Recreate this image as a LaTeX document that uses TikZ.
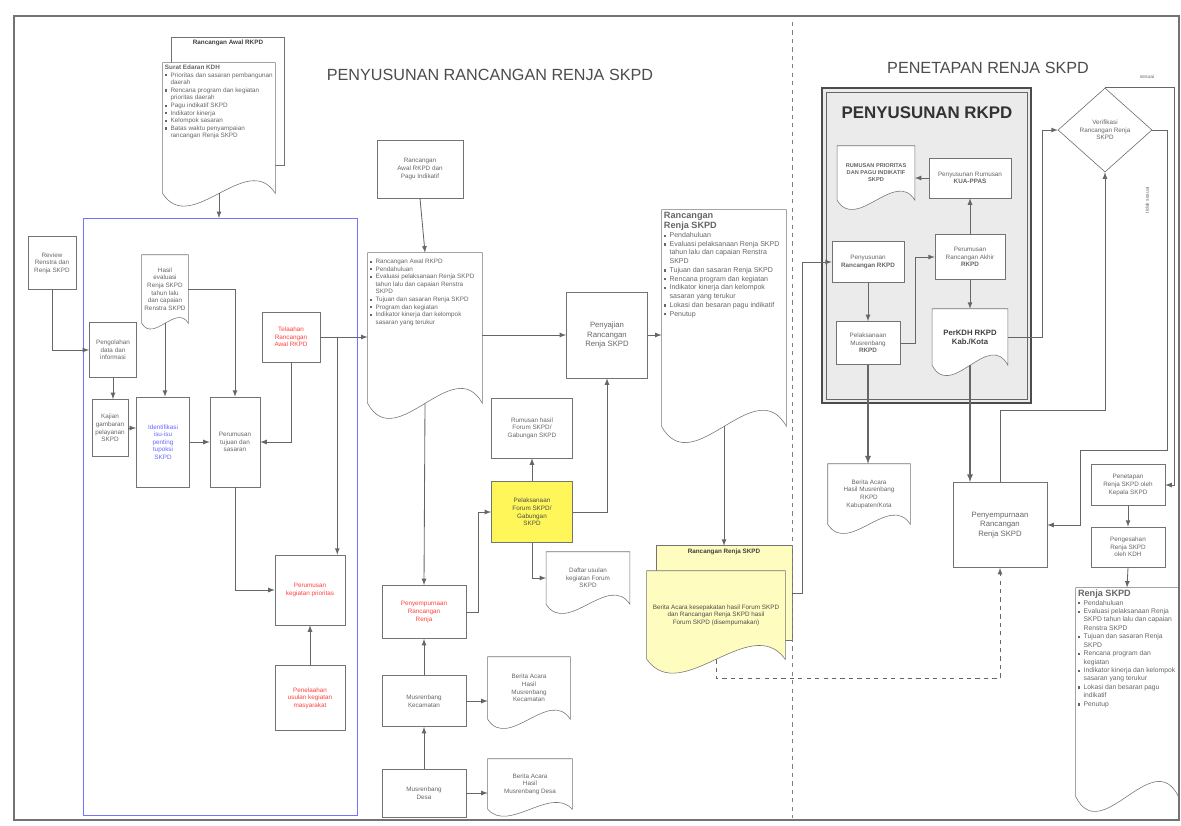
\documentclass[tikz,border=0pt]{standalone}
\usepackage{fontspec}
\setmainfont{Liberation Sans}
\usetikzlibrary{calc,shapes.geometric}
\pgfdeclarelayer{background}
\pgfsetlayers{background,main}

\tikzset{
  box/.style={draw=black!55, fill=white, align=center, inner sep=1pt, text=black!60, font=\fontsize{4.5}{5.4}\selectfont},
  redbox/.style={box, text=red!75},
  bluebox/.style={box, text=blue!60},
  yellowbox/.style={box, fill=yellow!65, text=black!70},
  doc/.style={align=center, inner sep=1.5pt, text=black!60, font=\fontsize{4.5}{5.4}\selectfont},
  sheet/.style={inner sep=0pt},
  sheethead/.style={anchor=north, inner sep=2pt, text=black!75, font=\fontsize{4.5}{5.4}\selectfont\bfseries},
  title/.style={font=\fontsize{11.5}{13}\selectfont, text=black!70},
  note/.style={inner sep=1pt, text=black!60, font=\fontsize{3.5}{4}\selectfont},
  link/.style={draw=black!60, line width=0.6pt, ->}
}

% lembar dokumen dengan tepi bawah bergelombang
\newcommand{\wavydoc}[3][white]{%
  \begin{pgfonlayer}{background}
  \draw[draw=black!55, fill=#1] (#2.south west) -- (#2.north west) -- (#2.north east) -- (#2.south east)
    .. controls ($(#2.south east)!0.5!(#2.south)+(0,#3)$) and ($(#2.south)!0.5!(#2.south west)-(0,#3)$) .. (#2.south west) -- cycle;
  \end{pgfonlayer}}
\newcommand{\backsheet}[2][white]{%
  \begin{pgfonlayer}{background}
  \draw[draw=black!55, fill=#1] (#2.north west) rectangle (#2.south east);
  \end{pgfonlayer}}
\newcommand{\itm}{\par\noindent\hangindent=4pt\hangafter=1\makebox[4pt][l]{\rule[0.5pt]{1.6pt}{1.6pt}}}

\begin{document}
\begin{tikzpicture}[x=0.025cm, y=-0.025cm, >=latex]
\useasboundingbox (0,0) rectangle (1181,825);
\draw[black!55, line width=0.8pt] (14,16) rectangle (1179,820);
\draw[black!50, dashed] (792,22) -- (792,818);
\node[title] (tSusun) at (490,75) {PENYUSUNAN RANCANGAN RENJA SKPD};
\node[title] (tTetap) at (988,68) {PENETAPAN RENJA SKPD};

% tahap penyusunan
\draw[blue!55, line width=0.6pt] (83,218) rectangle (357,815);
\coordinate (blueTop) at (219,218);
\node[sheet, minimum width=2.8cm, minimum height=3.18cm, label={[sheethead]north:Rancangan Awal RKPD}] (raSheet) at (228,101) {};
\backsheet{raSheet}
\node[doc] (seDoc) at (219,128) {\parbox[c][3.15cm][t]{2.7cm}{\raggedright
  {\bfseries Surat Edaran KDH}
  \itm Prioritas dan sasaran pembangunan daerah
  \itm Rencana program dan kegiatan prioritas daerah
  \itm Pagu indikatif SKPD
  \itm Indikator kinerja
  \itm Kelompok sasaran
  \itm Batas waktu penyampaian rancangan Renja SKPD}};
\wavydoc{seDoc}{11mm}
\draw[link] (seDoc.south) -- (blueTop);

\node[box, minimum width=1.2cm, minimum height=1.33cm] (reviewRenstra) at (52,263) {Review\\Renstra dan\\Renja SKPD};
\node[box, minimum width=1.18cm, minimum height=1.38cm] (olahData) at (113,350) {Pengolahan\\data dan\\informasi};
\node[doc, minimum width=1.15cm, minimum height=1.7cm] (evalDoc) at (165,289) {Hasil\\evaluasi\\Renja SKPD\\tahun lalu\\dan capaian\\Renstra SKPD};
\wavydoc{evalDoc}{5mm}
\node[box, minimum width=0.9cm, minimum height=1.43cm] (gambaran) at (110,428) {Kajian\\gambaran\\pelayanan\\SKPD};
\node[bluebox, minimum width=1.33cm, minimum height=2.25cm] (isuPenting) at (163,442) {Identifikasi\\isu-isu\\penting\\tupoksi\\SKPD};
\node[box, minimum width=1.25cm, minimum height=2.25cm] (tujuan) at (235,442) {Perumusan\\tujuan dan\\sasaran};
\node[redbox, minimum width=1.45cm, minimum height=1.25cm] (telaahRkpd) at (291,337) {Telaahan\\Rancangan\\Awal RKPD};
\node[redbox, minimum width=1.75cm, minimum height=1.75cm] (prioritas) at (310,590) {Perumusan\\kegiatan prioritas};
\node[redbox, minimum width=1.75cm, minimum height=1.63cm] (usulanMas) at (310,698) {Penelaahan\\usulan kegiatan\\masyarakat};

\draw[link] (reviewRenstra.south) |- (olahData.west);
\draw[link] (olahData.south) -- (olahData.south |- gambaran.north);
\draw[link] (gambaran.east) -- (gambaran.east -| isuPenting.west);
\draw[link] (isuPenting.east) -- (tujuan.west);
\draw[link] (evalDoc.south) -- (evalDoc.south |- isuPenting.north);
\draw[link] (evalDoc.east) -| (tujuan.north);
\draw[link] (telaahRkpd.south) |- (tujuan.east);
\draw[link] (telaahRkpd.east) -| ([xshift=-2mm]prioritas.north east);
\draw[link] (tujuan.south) |- (prioritas.west);
\draw[link] (usulanMas.north) -- (prioritas.south);

% rancangan renja
\node[box, minimum width=2.15cm, minimum height=1.45cm] (rkpdAwal) at (420,169) {Rancangan\\Awal RKPD dan\\Pagu Indikatif};
\node[doc] (renjaAwal) at (425,328) {\parbox[c][3.65cm][t]{2.75cm}{\raggedright\vspace*{1mm}
  \itm Rancangan Awal RKPD
  \itm Pendahuluan
  \itm Evaluasi pelaksanaan Renja SKPD tahun lalu dan capaian Renstra SKPD
  \itm Tujuan dan sasaran Renja SKPD
  \itm Program dan kegiatan
  \itm Indikator kinerja dan kelompok sasaran yang terukur}};
\wavydoc{renjaAwal}{13mm}
\draw[link] (rkpdAwal.south) -- (renjaAwal.north);
\draw[link] (telaahRkpd.east) -- (telaahRkpd.east -| renjaAwal.west);

\node[box, minimum width=2.03cm, minimum height=2.15cm, font=\fontsize{5.5}{6.5}\selectfont] (penyajian) at (607,335) {Penyajian\\Rancangan\\Renja SKPD};
\draw[link] (renjaAwal.east |- penyajian.west) -- (penyajian.west);
\node[doc] (renjaRanc) at (724,318) {\parbox[c][5.3cm][t]{3.0cm}{\raggedright\fontsize{5}{6.2}\selectfont
  {\fontsize{6.5}{7.5}\selectfont\bfseries Rancangan\\Renja SKPD\par}
  \itm Pendahuluan
  \itm Evaluasi pelaksanaan Renja SKPD tahun lalu dan capaian Renstra SKPD
  \itm Tujuan dan sasaran Renja SKPD
  \itm Rencana program dan kegiatan
  \itm Indikator kinerja dan kelompok sasaran yang terukur
  \itm Lokasi dan besaran pagu indikatif
  \itm Penutup}};
\wavydoc{renjaRanc}{14mm}
\draw[link] (penyajian.east) -- (penyajian.east -| renjaRanc.west);

\node[box, minimum width=2.03cm, minimum height=1.5cm] (hasilForum) at (532,428) {Rumusan hasil\\Forum SKPD/\\Gabungan SKPD};
\node[yellowbox, minimum width=2.03cm, minimum height=1.53cm] (forumSkpd) at (532,512) {Pelaksanaan\\Forum SKPD/\\Gabungan\\SKPD};
\draw[link] (forumSkpd.north) -- (hasilForum.south);
\draw[link] (forumSkpd.east) -| (penyajian.south);
\node[doc, minimum width=2.08cm, minimum height=1.3cm] (usulanForum) at (588,578) {Daftar usulan\\kegiatan Forum\\SKPD};
\wavydoc{usulanForum}{8mm}
\draw[link] (forumSkpd.south) |- (usulanForum.west);
\node[redbox, minimum width=2.1cm, minimum height=1.33cm] (penyempurnaan) at (424,612) {Penyempurnaan\\Rancangan\\Renja};
\draw[link] (renjaAwal.south) -- (penyempurnaan.north);
\draw[link] (penyempurnaan.east) -- ++(12,0) |- (forumSkpd.west);
\node[box, minimum width=2.1cm, minimum height=1.28cm] (musKec) at (424,701) {Musrenbang\\Kecamatan};
\draw[link] (musKec.north) -- (penyempurnaan.south);
\node[doc, minimum width=2.05cm, minimum height=1.55cm] (baKec) at (529,688) {Berita Acara\\Hasil\\Musrenbang\\Kecamatan};
\wavydoc{baKec}{8mm}
\draw[link] (musKec.east) -- (musKec.east -| baKec.west);
\node[box, minimum width=2.1cm, minimum height=1.2cm] (musDesa) at (424,793) {Musrenbang\\Desa};
\draw[link] (musDesa.north) -- (musKec.south);
\node[doc, minimum width=2.1cm, minimum height=1.25cm] (baDesa) at (530,784) {Berita Acara\\Hasil\\Musrenbang Desa};
\wavydoc{baDesa}{6mm}
\draw[link] (musDesa.east) -- (musDesa.east -| baDesa.west);

\node[sheet, minimum width=3.38cm, minimum height=2.35cm, label={[sheethead]north:Rancangan Renja SKPD}] (renjaSheet) at (724,593) {};
\backsheet[yellow!25]{renjaSheet}
\node[doc, minimum width=3.45cm, minimum height=2.2cm, text=black!70] (baRenja) at (716,615) {Berita Acara kesepakatan hasil Forum SKPD\\dan Rancangan Renja SKPD hasil\\Forum SKPD (disempurnakan)};
\wavydoc[yellow!25]{baRenja}{12mm}
\draw[link] (renjaRanc.south) -- (renjaSheet.north);

% penyusunan rkpd
\begin{pgfonlayer}{background}
\draw[black!70, line width=1pt, fill=black!8] (822,88) rectangle (1031,403);
\draw[black!60, line width=0.4pt] (826,92) rectangle (1027,399);
\end{pgfonlayer}
\node[font=\fontsize{12}{14}\selectfont\bfseries, text=black!80] (tRkpd) at (927,113) {PENYUSUNAN RKPD};
\node[doc, font=\fontsize{4}{5}\selectfont\bfseries, minimum width=1.93cm, minimum height=1.35cm] (rumusanPrioritas) at (876,173) {RUMUSAN PRIORITAS\\DAN PAGU INDIKATIF\\SKPD};
\wavydoc{rumusanPrioritas}{8mm}
\node[box, minimum width=2.05cm, minimum height=1cm] (rk4) at (970,178) {Penyusunan Rumusan\\\textbf{KUA-PPAS}};
\node[box, minimum width=1.75cm, minimum height=1.13cm] (rk3) at (970,257) {Perumusan\\Rancangan Akhir\\\textbf{RKPD}};
\node[box, minimum width=1.8cm, minimum height=1.03cm] (rk1) at (868,262) {Penyusunan\\\textbf{Rancangan RKPD}};
\node[box, minimum width=1.6cm, minimum height=1.08cm] (rk2) at (868,343) {Pelaksanaan\\Musrenbang\\\textbf{RKPD}};
\node[doc, font=\fontsize{5.5}{6.5}\selectfont\bfseries, minimum width=1.88cm, minimum height=1.4cm, text=black!75] (perkdh) at (970,337) {PerKDH RKPD\\Kab./Kota};
\wavydoc{perkdh}{9mm}
\draw[link] (rk1.south) -- (rk2.north);
\draw[link] (rk2.east) -- ++(15,0) |- (rk3.west);
\draw[link] (rk3.north) -- (rk4.south);
\draw[link] (rk4.west) -- (rk4.west -| rumusanPrioritas.east);
\draw[link] (rk3.south) -- (perkdh.north);
\draw[link] (renjaSheet.east) -- ++(11,0) |- (rk1.west);

% penetapan
\node[diamond, draw=black!60, fill=white, minimum width=2.35cm, minimum height=2.1cm, inner sep=0pt, align=center, text=black!60, font=\fontsize{4.5}{5.4}\selectfont] (verifikasi) at (1105,130) {Verifikasi\\Rancangan Renja\\SKPD};
\draw[link] (perkdh.east) -- ++(35,0) |- (verifikasi.west);
\node[box, minimum width=2.35cm, minimum height=2.13cm, font=\fontsize{5.5}{6.5}\selectfont] (penyempurnaanAkhir) at (1000,525) {Penyempurnaan\\Rancangan\\Renja SKPD};
\draw[link, line width=0.9pt] (perkdh.south) -- (perkdh.south |- penyempurnaanAkhir.north);
\draw[link] (penyempurnaanAkhir.north) -- ++(0,-72) -| (verifikasi.south);
\draw[link, dashed] (baRenja.south) -- ++(0,19) -| (penyempurnaanAkhir.south);
\node[doc, minimum width=2.05cm, minimum height=1.5cm] (baRkpd) at (869,494) {Berita Acara\\Hasil Musrenbang\\RKPD\\Kabupaten/Kota};
\wavydoc{baRkpd}{8mm}
\draw[link, line width=0.9pt] (rk2.south) -- (rk2.south |- baRkpd.north);

\node[box, minimum width=1.85cm, minimum height=1.03cm] (penetapan) at (1128,485) {Penetapan\\Renja SKPD oleh\\Kepala SKPD};
\node[box, minimum width=1.85cm, minimum height=1cm] (pengesahan) at (1128,547) {Pengesahan\\Renja SKPD\\oleh KDH};
\draw[link] (penetapan.south) -- (pengesahan.north);
\node[doc] (renjaFinal) at (1127,692) {\parbox[c][5.1cm][t]{2.45cm}{\raggedright\fontsize{4.8}{6}\selectfont
  {\fontsize{6.5}{7.5}\selectfont\bfseries Renja SKPD\par}
  \itm Pendahuluan
  \itm Evaluasi pelaksanaan Renja SKPD tahun lalu dan capaian Renstra SKPD
  \itm Tujuan dan sasaran Renja SKPD
  \itm Rencana program dan kegiatan
  \itm Indikator kinerja dan kelompok sasaran yang terukur
  \itm Lokasi dan besaran pagu indikatif
  \itm Penutup}};
\wavydoc{renjaFinal}{13mm}
\draw[link] (pengesahan.south) -- (renjaFinal.north);

\node[note] (lblSesuai) at (1147,77) {sesuai};
\draw[link] (verifikasi.north) -- ++(69,0) |- (penetapan.east);
\node[note, rotate=90] (lblTidak) at (1147,200) {tidak sesuai};
\draw[link] (verifikasi.east) -- ++(15,0) -- ++(0,320) -- ++(-87,0) |- (penyempurnaanAkhir.east);
\end{tikzpicture}
\end{document}
